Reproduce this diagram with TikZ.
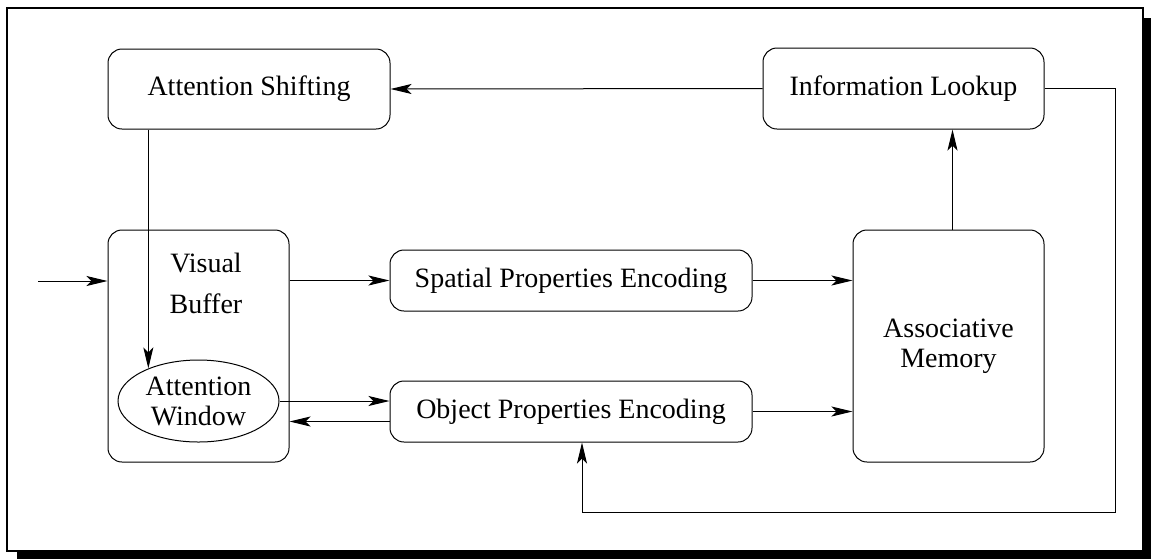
\documentclass[tikz,border=0pt]{standalone}
\usepackage{fontspec}
\setmainfont{Liberation Serif}
\usetikzlibrary{arrows.meta,shapes.geometric}
\tikzset{
  box/.style={draw, rounded corners=7pt, line width=0.5pt, inner sep=0pt, align=center},
  flow/.style={line width=0.5pt, -{Stealth[length=10.5pt,width=5pt,inset=2.5pt]}},
  wire/.style={line width=0.5pt},
}

\begin{document}
\begin{tikzpicture}[x=0.5pt, y=-0.5pt, font=\fontsize{14}{15}\selectfont]
			%%%%% START %%%%%
			\useasboundingbox (0,0) rectangle (1151,559);
			
			\fill[black] (17,18) rectangle (1151,559);
			\draw[fill=white, line width=0.6pt] (7,8) rectangle (1143,551);
			
			\node[box, minimum width=141pt, minimum height=40pt] (shift) at (249,89) {Attention Shifting};
			\node[box, minimum width=140.5pt, minimum height=40.5pt] (lookup) at (903.5,88.5) {Information Lookup};
			
			\node[box, minimum width=90.5pt, minimum height=116pt] (buffer) at (198.5,346) {};
			\node[align=center, font=\fontsize{14}{20.5}\selectfont] (bufname) at (206,283) {Visual\\Buffer};
			\node[draw, ellipse, line width=0.5pt, inner sep=0pt, minimum width=80.5pt, minimum height=41pt, align=center] (window) at (198.5,401) {Attention\\Window};
			
			\node[box, minimum width=181pt, minimum height=30.5pt] (spatial) at (571,280.5) {Spatial Properties Encoding};
			\node[box, minimum width=181pt, minimum height=30.5pt] (object) at (571,411.5) {Object Properties Encoding};
			
			\node[box, minimum width=95.5pt, minimum height=116pt] (memory) at (948.5,346) {Associative\\Memory};
			
			\coordinate (in) at (38,281);
			\coordinate (fb) at (1115,512);
			
			\draw[flow] (in) -- (in -| buffer.west);
			\draw[flow] (buffer.east |- spatial.west) -- (spatial.west);
			\draw[flow] (spatial.east) -- (spatial.east -| memory.west);
			\draw[flow] (object.east) -- (object.east -| memory.west);
			\draw[flow] (window.east) -- (window.east -| object.west);
			\draw[flow] ([yshift=-5pt]object.west) -- ([yshift=-5pt]object.west -| buffer.east);
			\draw[flow] (shift.south -| window.147.7) -- (window.147.7);
			\draw[flow] ([xshift=2pt]memory.north) -- ([xshift=2pt]memory.north |- lookup.south);
			\draw[flow] (lookup.west) -- (shift.east);
			\draw[flow] (lookup.east) -| (fb) -| ([xshift=5.5pt]object.south);
			
			%%%%% END %%%%%
\end{tikzpicture}
\end{document}
